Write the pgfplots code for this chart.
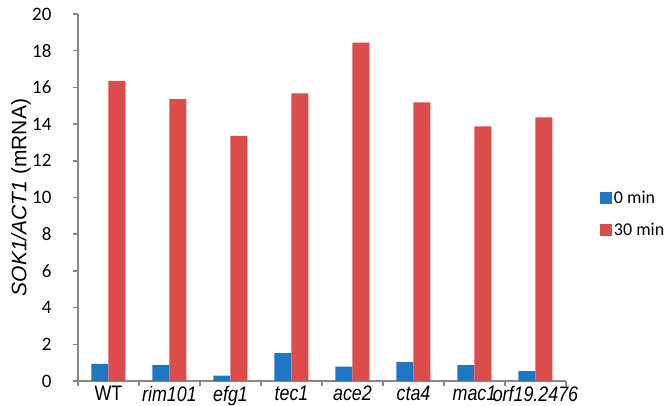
\documentclass[border=0pt]{standalone}
\usepackage{fontspec}
\setmainfont{Liberation Sans}
\newfontfamily\carlito{Carlito}
\newfontfamily\xfont{Liberation Sans}[FakeStretch=0.85]
\usepackage{pgfplots}
\pgfplotsset{compat=1.18}
\definecolor{barblue}{RGB}{31,119,196}
\definecolor{barred}{RGB}{220,76,74}
\definecolor{axgray}{RGB}{136,136,136}
\begin{document}
\begin{tikzpicture}
\useasboundingbox (-78pt,-24pt) rectangle (591pt,381pt);
\begin{axis}[
  scale only axis, width=488pt, height=367pt,
  xmin=-0.5, xmax=7.5, ymin=0, ymax=20,
  axis lines=left,
  axis line style={draw=axgray, line width=2pt, -},
  /pgf/number format/assume math mode=true,
  ytick={0,2,...,20},
  xtick={-0.5,0.5,...,7.5},
  xticklabels={},
  extra x ticks={0,1,2,3,4,5,6,7},
  extra x tick labels={WT,\textit{rim101},\textit{efg1},\textit{tec1},\textit{ace2},\textit{cta4},\textit{mac1},\textit{orf19.2476}},
  extra x tick style={tick style={draw=none}},
  tick style={draw=axgray, line width=1.5pt},
  tick align=outside,
  major tick length=5pt,
  xticklabel style={font=\xfont\fontsize{21}{21}\selectfont, inner sep=0pt, anchor=north, yshift=0pt},
  yticklabel style={font=\carlito\fontsize{19}{20}\selectfont, xshift=-18pt},
  ylabel={\textit{SOK1/ACT1} (mRNA)},
  ylabel style={font=\fontsize{21}{24}\selectfont, at={(axis description cs:-0.117,0.5)}, anchor=center},
  ybar=0pt, bar width=17pt,
  legend image code/.code={\fill[#1] (0pt,-6pt) rectangle (12pt,6pt);},
  legend style={at={(rel axis cs:1.063,0.455)}, anchor=west, draw=none, fill=none,
    font=\carlito\fontsize{18}{20}\selectfont, row sep=14pt},
  legend cell align=left,
]
\addplot[fill=barblue, draw=none] coordinates {(0,0.94) (1,0.87) (2,0.29) (3,1.52) (4,0.78) (5,1.03) (6,0.87) (7,0.54)};
\addplot[fill=barred, draw=none] coordinates {(0,16.36) (1,15.36) (2,13.36) (3,15.68) (4,18.44) (5,15.19) (6,13.87) (7,14.36)};
\legend{0 min,30 min}
\end{axis}
\end{tikzpicture}
\end{document}
